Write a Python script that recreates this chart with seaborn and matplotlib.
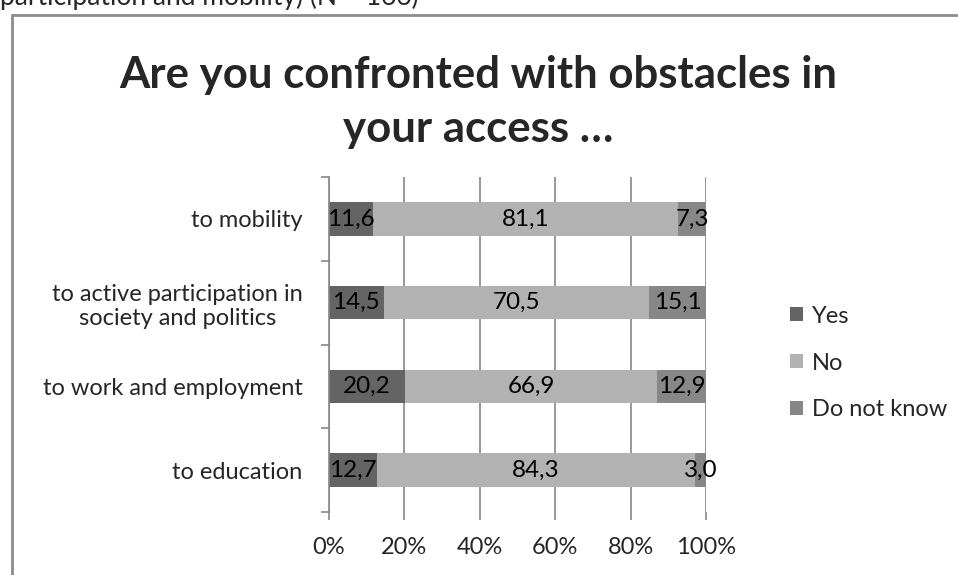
import matplotlib
matplotlib.use("Agg")
import matplotlib.pyplot as plt
from matplotlib.lines import Line2D
from matplotlib.patches import Patch
import numpy as np
import pandas as pd
import seaborn as sns

# Survey results (percent of respondents)
categories = [
    "to mobility",
    "to active participation in\nsociety and politics",
    "to work and employment",
    "to education",
]
yes_vals = [11.6, 14.5, 20.2, 12.7]
no_vals = [81.1, 70.5, 66.9, 84.3]
dnk_vals = [7.3, 15.1, 12.9, 3.0]
series_names = ["Yes", "No", "Do not know"]
series_colors = ["#646464", "#b2b2b2", "#878787"]
x_ticks = [0, 20, 40, 60, 80, 100]

sns.set_theme(style="white")
plt.rcParams["font.family"] = ["Lato", "DejaVu Sans"]

df = pd.DataFrame({"category": categories, "Yes": yes_vals,
                   "No": no_vals, "Do not know": dnk_vals})
df["cum_yes"] = df["Yes"]
df["cum_no"] = df["Yes"] + df["No"]
df["cum_all"] = df["cum_no"] + df["Do not know"]

fig = plt.figure(figsize=(9.58, 5.75), dpi=100)
ax = fig.add_axes([329 / 958, 1 - 512 / 575, (706 - 329) / 958, (512 - 177) / 575])

# stacked bars: draw cumulative totals back to front
for col, color in zip(["cum_all", "cum_no", "cum_yes"], series_colors[::-1]):
    sns.barplot(data=df, y="category", x=col, orient="h", color=color,
                width=0.4, saturation=1, ax=ax, zorder=3, linewidth=0)

ax.set_xlim(0, 100)
ax.set_ylim(3.5, -0.5)
ax.set_xlabel("")
ax.set_ylabel("")

# segment value labels
for i in range(len(categories)):
    starts = [0, yes_vals[i], yes_vals[i] + no_vals[i]]
    vals = [yes_vals[i], no_vals[i], dnk_vals[i]]
    for s, v in zip(starts, vals):
        ax.text(s + v / 2, i, f"{v:.1f}".replace(".", ","), ha="center",
                va="center", fontsize=17.5, color="#000000", zorder=5)

grid_color = "#868686"
ax.set_xticks(x_ticks)
ax.set_xticklabels([f"{t}%" for t in x_ticks], fontsize=17)
ax.xaxis.grid(True, color=grid_color, linewidth=1.2, zorder=0)
ax.set_axisbelow(True)
ax.tick_params(axis="x", length=6, width=1.2, color=grid_color,
               direction="out", pad=12, bottom=True)
ax.set_yticks(range(len(categories)))
ax.set_yticklabels(categories, fontsize=17, ha="right", multialignment="center")
ax.tick_params(axis="y", length=0, pad=19)
ax.set_yticks([-0.5, 0.5, 1.5, 2.5, 3.5], minor=True)
ax.tick_params(axis="y", which="minor", length=6, width=1.2,
               color=grid_color, direction="out", left=True)

for side in ["top", "right", "bottom"]:
    ax.spines[side].set_visible(False)
ax.spines["left"].set_color(grid_color)
ax.spines["left"].set_linewidth(1.2)
ax.spines["left"].set_zorder(6)

# legend
handles = [Patch(facecolor=c, edgecolor="none") for c in series_colors]
fig.legend(handles, series_names, loc="center left",
           bbox_to_anchor=(778 / 958, 1 - 363 / 575), frameon=False,
           fontsize=17, handlelength=0.55, handleheight=0.55,
           handletextpad=0.4, labelspacing=1.1, borderpad=0)

# title
fig.text(478 / 958, 1 - 102 / 575,
         "Are you confronted with obstacles in\nyour access …",
         ha="center", va="center", fontsize=31.5, fontweight="bold",
         linespacing=1.45)

# chart frame and clipped caption line above it
fig.add_artist(Line2D([12 / 958, 12 / 958], [0, 1 - 15 / 575],
                      transform=fig.transFigure, color="#8c8c8c", linewidth=2))
fig.add_artist(Line2D([12 / 958, 1], [1 - 15 / 575, 1 - 15 / 575],
                      transform=fig.transFigure, color="#8c8c8c", linewidth=2))
fig.text(0, 1 - 4.5 / 575, "participation and mobility) (N = 166)",
         ha="left", va="baseline", fontsize=19)

fig.savefig("out.png", dpi=100)
